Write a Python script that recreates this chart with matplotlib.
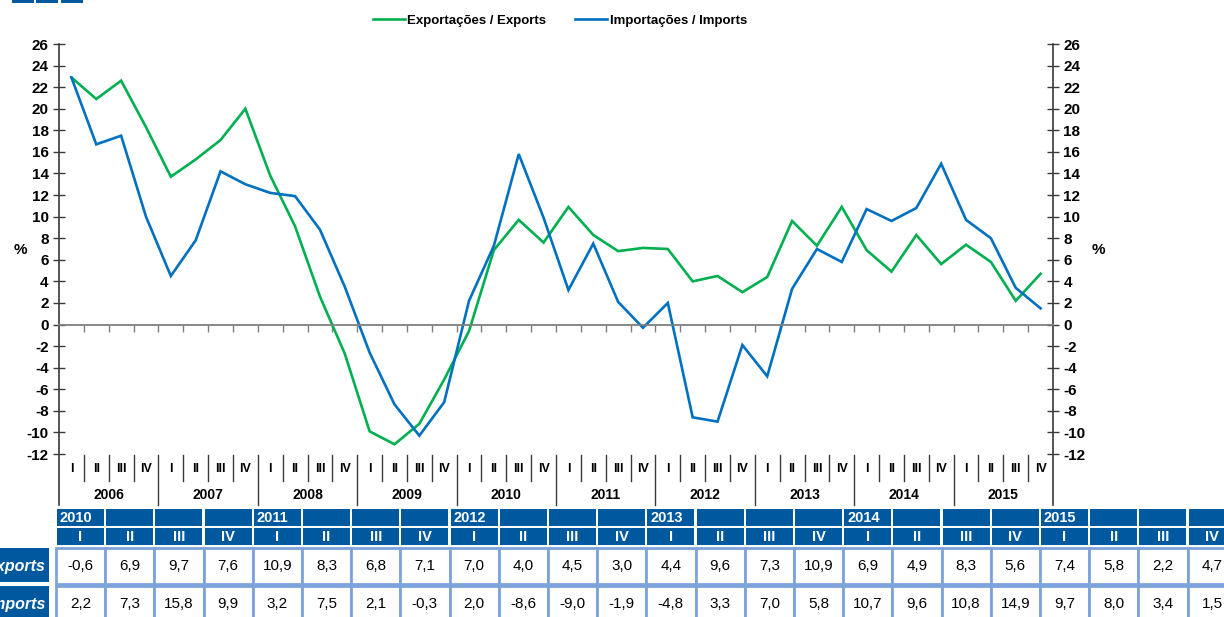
import matplotlib
matplotlib.use("Agg")
import matplotlib.pyplot as plt
from matplotlib.patches import Rectangle
from matplotlib.lines import Line2D
from matplotlib.transforms import blended_transform_factory

plt.rcParams['font.family'] = ['Liberation Sans', 'DejaVu Sans']
plt.rcParams['font.weight'] = 'bold'
plt.rcParams['axes.unicode_minus'] = False

# ---------------- data ----------------
years = ['2006', '2007', '2008', '2009', '2010', '2011', '2012', '2013', '2014', '2015']
quarters = ['I', 'II', 'III', 'IV']

exports = [22.9, 20.9, 22.6, 18.3,
           13.7, 15.3, 17.1, 20.0,
           13.8, 9.1, 2.6, -2.7,
           -9.9, -11.1, -9.2, -5.1,
           -0.6, 6.9, 9.7, 7.6,
           10.9, 8.3, 6.8, 7.1,
           7.0, 4.0, 4.5, 3.0,
           4.4, 9.6, 7.3, 10.9,
           6.9, 4.9, 8.3, 5.6,
           7.4, 5.8, 2.2, 4.7]

imports = [22.9, 16.7, 17.5, 10.0,
           4.5, 7.8, 14.2, 13.0,
           12.2, 11.9, 8.8, 3.5,
           -2.6, -7.4, -10.3, -7.2,
           2.2, 7.3, 15.8, 9.9,
           3.2, 7.5, 2.1, -0.3,
           2.0, -8.6, -9.0, -1.9,
           -4.8, 3.3, 7.0, 5.8,
           10.7, 9.6, 10.8, 14.9,
           9.7, 8.0, 3.4, 1.5]

table_years = ['2010', '2011', '2012', '2013', '2014', '2015']
table_first = 16  # index of 2010 Q1 in the series
row_labels = ['Exportações / Exports', 'Importações / Imports']

label_exp = 'Exportações / Exports'
label_imp = 'Importações / Imports'

# ---------------- style ----------------
GREEN = '#00B050'
BLUE = '#0070C0'
HDR = '#00599F'
BORDER = '#7DA3DC'
AXC = '#3a3a3a'

W, H = 1224, 617
fig = plt.figure(figsize=(W / 100, H / 100), dpi=100)
fig.patch.set_facecolor('white')

def fy(p):
    return 1 - p / H

# main chart axes
ax_l, ax_r, ax_t, ax_b = 59, 1053, 44, 454
ax = fig.add_axes([ax_l / W, fy(ax_b), (ax_r - ax_l) / W, (ax_b - ax_t) / H])
n = len(exports)
xs = [i + 0.5 for i in range(n)]
ax.plot(xs, exports, color=GREEN, lw=1.9, label=label_exp, solid_joinstyle='miter')
ax.plot(xs, imports, color=BLUE, lw=1.9, label=label_imp, solid_joinstyle='miter')
ax.set_xlim(0, n)
ax.set_ylim(-12, 26)
ax.set_yticks(range(-12, 27, 2))
ax.set_xticks(range(1, n))

for s in ['top', 'left', 'right']:
    ax.spines[s].set_visible(False)
ax.spines['bottom'].set_position(('data', 0))
ax.spines['bottom'].set_color('#7f7f7f')
ax.spines['bottom'].set_linewidth(1.3)
ax.tick_params(axis='x', direction='out', length=5, width=1, color='#7f7f7f',
               labelbottom=False)
ax.tick_params(axis='y', left=True, right=True, labelleft=True, labelright=True,
               direction='inout', length=9, width=1, color=AXC, labelsize=11,
               pad=3)

# vertical axis lines extended down to the year band
ybot = (ax_b - 505) / (ax_b - ax_t)
for xa in (0, 1):
    ax.add_line(Line2D([xa, xa], [ybot, 1], transform=ax.transAxes, color=AXC,
                       lw=1.2, clip_on=False))

# quarter / year separators and labels
tr = blended_transform_factory(ax.transData, ax.transAxes)
y_top_sep = (ax_b - 455) / (ax_b - ax_t)
y_q_sep = (ax_b - 481) / (ax_b - ax_t)
for k in range(1, n):
    yb = ybot if k % 4 == 0 else y_q_sep
    ax.add_line(Line2D([k, k], [y_top_sep, yb], transform=tr, color=AXC,
                       lw=1.0, clip_on=False))
y_qlab = (ax_b - 469) / (ax_b - ax_t)
y_ylab = (ax_b - 495) / (ax_b - ax_t)
for i in range(n):
    ax.text(i + 0.5, y_qlab, quarters[i % 4], transform=tr, ha='center',
            va='center', fontsize=9, fontweight='bold', color='black')
for j, yr in enumerate(years):
    ax.text(4 * j + 2, y_ylab, yr, transform=tr, ha='center', va='center',
            fontsize=10, fontweight='bold', color='black')

# % labels
fig.text(20 / W, fy(250), '%', ha='center', va='center', fontsize=11, fontweight='bold')
fig.text(1098 / W, fy(250), '%', ha='center', va='center', fontsize=11, fontweight='bold')

# legend
fig.legend(loc='center', bbox_to_anchor=(560 / W, fy(21)), ncol=2, frameon=False,
           prop={'size': 9.5, 'weight': 'bold'}, handlelength=2.4,
           handletextpad=0.2, columnspacing=2.2)

# ---------------- table & decorations (pixel axes) ----------------
tax = fig.add_axes([0, 0, 1, 1])
tax.set_xlim(0, W)
tax.set_ylim(H, 0)
tax.axis('off')

# small blue boxes top-left (cut off)
for bx in (12, 36, 61):
    tax.add_patch(Rectangle((bx, 0), 22, 3, fc=HDR, ec='none'))

x0, pitch, cw = 57, 49.2, 47
r1 = (509, 17)
r2 = (528, 17)
d1 = (548, 36)
d2 = (586, 36)
ncol = n - table_first
for c in range(ncol):
    x = x0 + c * pitch
    q = c % 4
    tax.add_patch(Rectangle((x, r1[0]), cw, r1[1], fc=HDR, ec='none'))
    if q == 0:
        tax.text(x + 3, r1[0] + r1[1] / 2 + 0.5, table_years[c // 4], ha='left',
                 va='center', color='white', fontsize=10.5, fontweight='bold')
    tax.add_patch(Rectangle((x, r2[0]), cw, r2[1], fc=HDR, ec='none'))
    tax.text(x + cw / 2, r2[0] + r2[1] / 2 + 0.5, quarters[q], ha='center',
             va='center', color='white', fontsize=10.5, fontweight='bold')
    for (yy, hh), series in ((d1, exports), (d2, imports)):
        tax.add_patch(Rectangle((x - 1, yy), pitch, hh, fc='white', ec=BORDER, lw=2))
        v = series[table_first + c]
        tax.text(x + cw / 2, yy + hh / 2 + 0.5, f'{v:.1f}'.replace('.', ','),
                 ha='center', va='center', color='black', fontsize=11,
                 fontweight='normal')

for (yy, hh), lab in zip((d1, d2), row_labels):
    tax.add_patch(Rectangle((-5, yy), 54, hh - 2, fc=HDR, ec='none'))
    tax.text(45, yy + hh / 2, lab, ha='right', va='center', color='white',
             fontsize=11.5, fontweight='bold', style='italic')

fig.savefig('out.png', dpi=100, facecolor='white')
